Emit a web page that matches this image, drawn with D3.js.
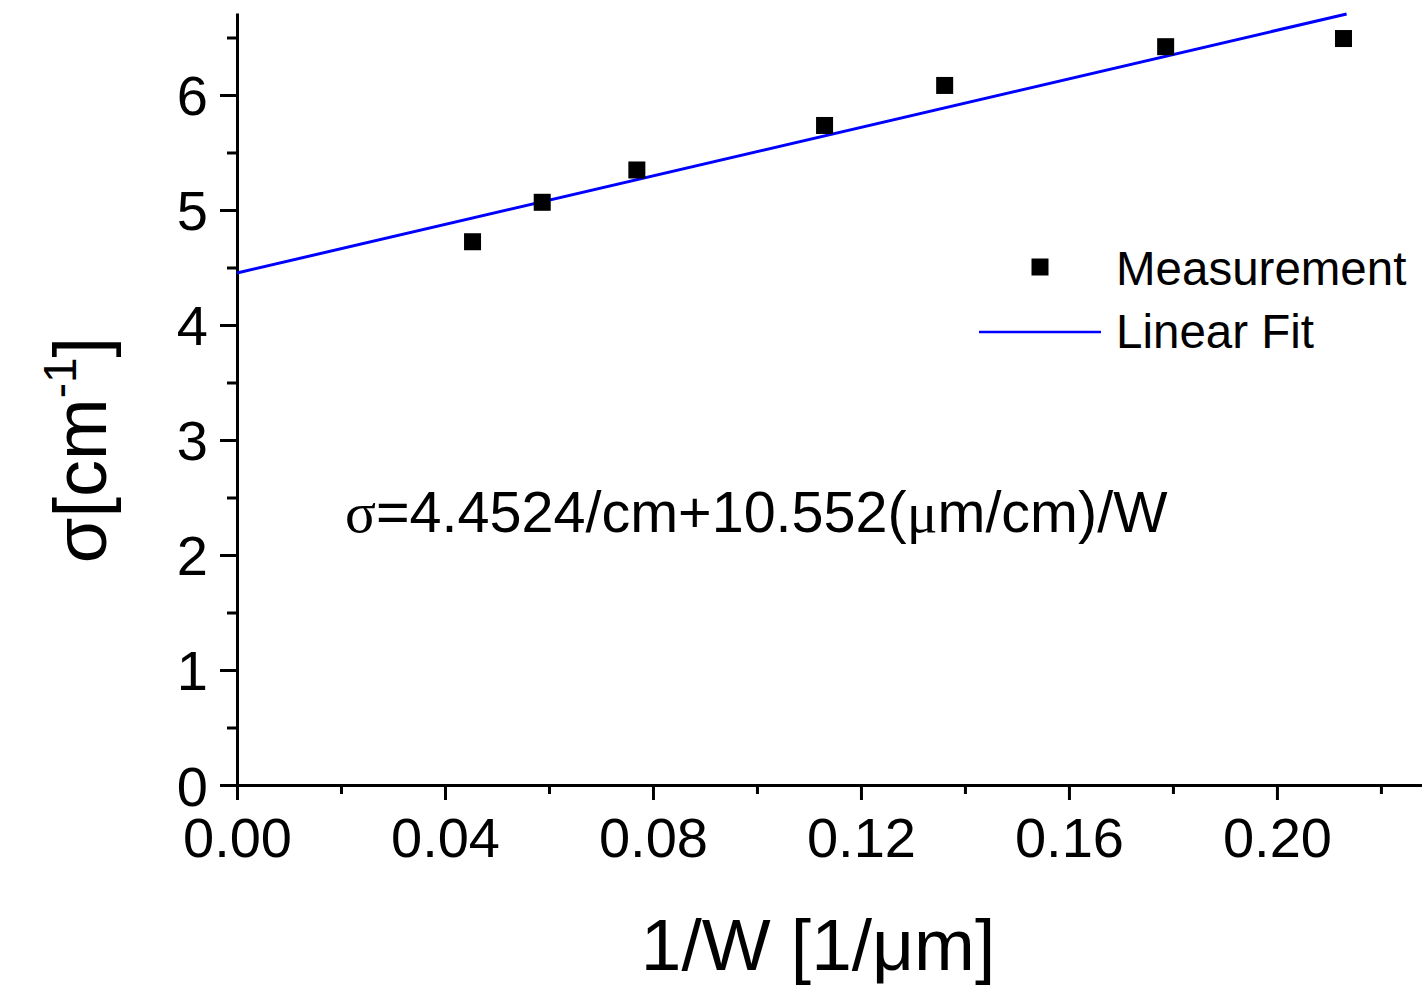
<!DOCTYPE html>
<html>
<head>
<meta charset="utf-8">
<script src="https://cdn.jsdelivr.net/npm/d3@7"></script>
<style>
  body { margin: 0; background: #fff; }
  text { font-family: "Liberation Sans", Arial, sans-serif; fill: #000; }
  .axis path, .axis line { stroke: #000; stroke-width: 3px; }
</style>
</head>
<body>
<div id="chart"></div>
<script>
var invWidth = [0.0453, 0.0587, 0.0769, 0.1130, 0.1361, 0.1786, 0.2128];
var sigma = [4.724, 5.067, 5.348, 5.735, 6.083, 6.420, 6.491];

// end points of the linear fit line
var fitX = [0, 0.2134];
var fitY = [4.4524, 6.704];

var xTicks = [0.00, 0.04, 0.08, 0.12, 0.16, 0.20];
var xMinor = [0.02, 0.06, 0.10, 0.14, 0.18, 0.22];
var yTicks = [0, 1, 2, 3, 4, 5, 6];
var yMinor = [0.5, 1.5, 2.5, 3.5, 4.5, 5.5, 6.5];

var svgWidth = 1422;
var svgHeight = 987;

var svg = d3.select("#chart")
  .append("svg")
  .attr("width", svgWidth)
  .attr("height", svgHeight);

var xScale = d3.scaleLinear()
  .domain([0, 0.2279])
  .range([237, 1422]);

var yScale = d3.scaleLinear()
  .domain([0, 6.713])
  .range([785, 13]);

// minor ticks first, so the major axes draw on top
svg.append("g")
  .attr("class", "axis")
  .attr("transform", "translate(0,785)")
  .call(d3.axisBottom(xScale).tickValues(xMinor).tickSize(9).tickSizeOuter(0).tickFormat(""))
  .select(".domain").remove();

svg.append("g")
  .attr("class", "axis")
  .attr("transform", "translate(237,0)")
  .call(d3.axisLeft(yScale).tickValues(yMinor).tickSize(10).tickSizeOuter(0).tickFormat(""))
  .select(".domain").remove();

var xAxis = svg.append("g")
  .attr("class", "axis")
  .attr("transform", "translate(0,785)")
  .call(d3.axisBottom(xScale).tickValues(xTicks).tickSize(15).tickSizeOuter(0)
    .tickFormat(d3.format(".2f")));

xAxis.selectAll("text")
  .attr("y", 0)
  .attr("dy", 72)
  .style("font-size", "56px");

var yAxis = svg.append("g")
  .attr("class", "axis")
  .attr("transform", "translate(237,0)")
  .call(d3.axisLeft(yScale).tickValues(yTicks).tickSize(17).tickSizeOuter(0)
    .tickFormat(d3.format("d")));

yAxis.selectAll("text")
  .attr("x", -29)
  .attr("dy", 20)
  .style("font-size", "56px");

// fit line
var line = d3.line()
  .x(d => xScale(d[0]))
  .y(d => yScale(d[1]));

svg.append("path")
  .datum(fitX.map((x, i) => [x, fitY[i]]))
  .attr("d", line)
  .attr("fill", "none")
  .attr("stroke", "#0000ff")
  .attr("stroke-width", 3);

// measurement squares
var size = 17;
svg.selectAll(".pt")
  .data(invWidth)
  .enter()
  .append("rect")
  .attr("class", "pt")
  .attr("x", d => xScale(d) - size / 2)
  .attr("y", (d, i) => yScale(sigma[i]) - size / 2)
  .attr("width", size)
  .attr("height", size)
  .attr("fill", "#000");

// legend
var legend = svg.append("g");

legend.append("rect")
  .attr("x", 1040 - size / 2)
  .attr("y", 267 - size / 2)
  .attr("width", size)
  .attr("height", size)
  .attr("fill", "#000");

legend.append("text")
  .attr("x", 1116)
  .attr("y", 285)
  .style("font-size", "47.5px")
  .text("Measurement");

legend.append("line")
  .attr("x1", 979)
  .attr("x2", 1101)
  .attr("y1", 332)
  .attr("y2", 332)
  .attr("stroke", "#0000ff")
  .attr("stroke-width", 2.5);

legend.append("text")
  .attr("x", 1116)
  .attr("y", 348)
  .style("font-size", "47.5px")
  .text("Linear Fit");

// fit equation
var eq = svg.append("text")
  .attr("x", 345)
  .attr("y", 532)
  .style("font-size", "57.5px");

eq.append("tspan")
  .style("font-family", "'Liberation Serif', 'Times New Roman', serif")
  .text("σ");
eq.append("tspan").text("=4.4524/cm+10.552(");
eq.append("tspan")
  .style("font-family", "'Liberation Serif', 'Times New Roman', serif")
  .text("μ");
eq.append("tspan").text("m/cm)/W");

// axis titles
svg.append("text")
  .attr("x", 818)
  .attr("y", 970)
  .attr("text-anchor", "middle")
  .style("font-size", "73px")
  .text("1/W [1/μm]");

var yTitle = svg.append("text")
  .attr("transform", "translate(106,450) rotate(-90)")
  .attr("text-anchor", "middle")
  .style("font-size", "74px");

yTitle.append("tspan").text("σ[cm");
yTitle.append("tspan")
  .attr("dy", -30)
  .style("font-size", "46px")
  .text("-1");
yTitle.append("tspan")
  .attr("dy", 30)
  .text("]");
</script>
</body>
</html>
